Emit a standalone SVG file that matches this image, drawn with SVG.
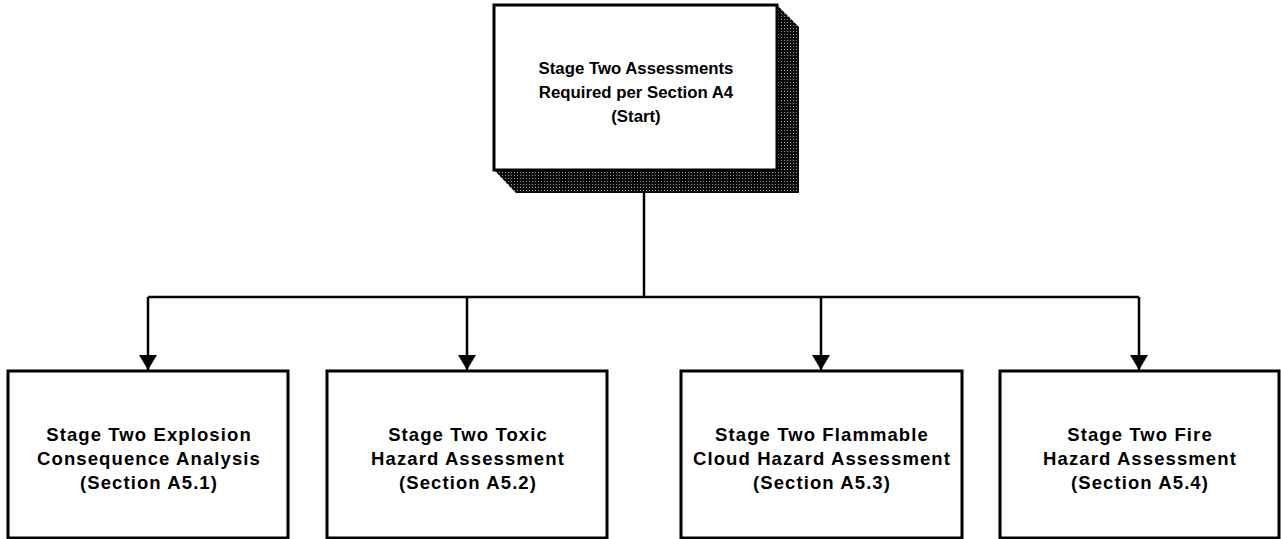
<svg xmlns="http://www.w3.org/2000/svg" width="1281" height="539" viewBox="0 0 1281 539">
  <defs>
    <!-- dithered drop shadow -->
    <pattern id="dither" width="3" height="3" patternUnits="userSpaceOnUse">
      <rect width="3" height="3" fill="#0a0a0a"/>
      <rect x="1" y="1" width="1" height="1" fill="#999"/>
    </pattern>
    <marker id="arrow" markerUnits="userSpaceOnUse" markerWidth="15" markerHeight="18" viewBox="0 0 15 18" refX="15" refY="9" orient="auto">
      <path d="M0,0 L15,9 L0,18 z" fill="#000"/>
    </marker>
    <style>
      .box { fill: #fff; stroke: #000; stroke-width: 3; }
      .wire { fill: none; stroke: #000; stroke-width: 2.5; }
      .top { font-family: "Liberation Sans", Arial, sans-serif; font-weight: bold; font-size: 16.8px; text-anchor: middle; fill: #000; }
      .lbl { font-family: "Liberation Sans", Arial, sans-serif; font-weight: bold; font-size: 18.5px; letter-spacing: 1.1px; text-anchor: middle; fill: #000; }
    </style>
  </defs>

  <rect width="1281" height="539" fill="#fff"/>

  <g id="connectors">
    <path class="wire" d="M644,170 V297"/>
    <path class="wire" d="M148,297 H1139"/>
    <path class="wire" d="M148,297 V370" marker-end="url(#arrow)"/>
    <path class="wire" d="M467,297 V370" marker-end="url(#arrow)"/>
    <path class="wire" d="M821,297 V370" marker-end="url(#arrow)"/>
    <path class="wire" d="M1139,297 V370" marker-end="url(#arrow)"/>
  </g>

  <g id="start">
    <polygon points="777,5 799,27 799,193 516,193 494,170" fill="url(#dither)"/>
    <rect class="box" x="494" y="5" width="283" height="165"/>
    <text class="top" x="636" y="74">Stage Two Assessments</text>
    <text class="top" x="636" y="98">Required per Section A4</text>
    <text class="top" x="636" y="122">(Start)</text>
  </g>

  <g id="explosion">
    <rect class="box" x="8" y="371" width="280" height="167"/>
    <text class="lbl" x="149" y="441">Stage Two Explosion</text>
    <text class="lbl" x="149" y="465">Consequence Analysis</text>
    <text class="lbl" x="149" y="489">(Section A5.1)</text>
  </g>

  <g id="toxic">
    <rect class="box" x="327" y="371" width="280" height="167"/>
    <text class="lbl" x="468" y="441">Stage Two Toxic</text>
    <text class="lbl" x="468" y="465">Hazard Assessment</text>
    <text class="lbl" x="468" y="489">(Section A5.2)</text>
  </g>

  <g id="flammable">
    <rect class="box" x="681" y="371" width="281" height="167"/>
    <text class="lbl" x="822" y="441">Stage Two Flammable</text>
    <text class="lbl" x="822" y="465">Cloud Hazard Assessment</text>
    <text class="lbl" x="822" y="489">(Section A5.3)</text>
  </g>

  <g id="fire">
    <rect class="box" x="1000" y="371" width="279" height="167"/>
    <text class="lbl" x="1140" y="441">Stage Two Fire</text>
    <text class="lbl" x="1140" y="465">Hazard Assessment</text>
    <text class="lbl" x="1140" y="489">(Section A5.4)</text>
  </g>
</svg>
